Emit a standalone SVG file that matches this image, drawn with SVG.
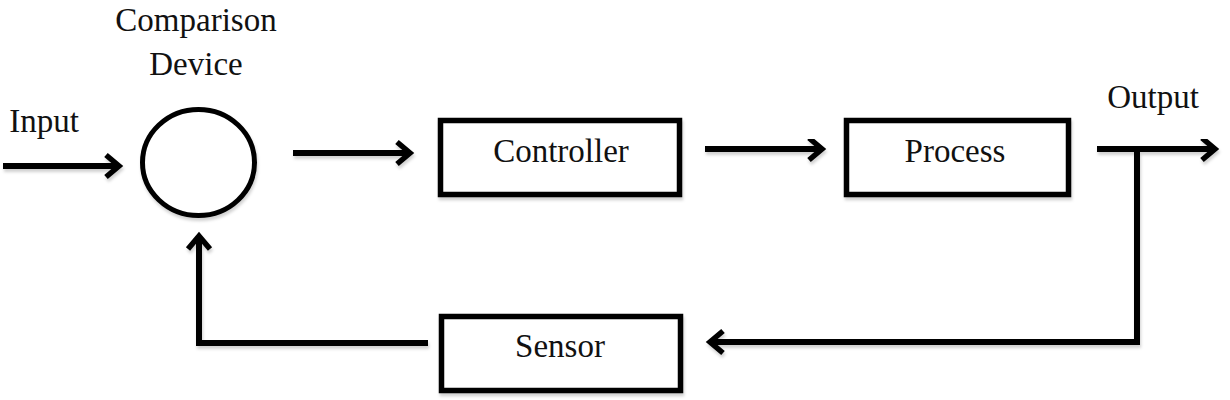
<svg xmlns="http://www.w3.org/2000/svg" width="1230" height="400" viewBox="0 0 1230 400">
<defs>
<style>
.box{fill:#fff;stroke:#000;stroke-width:5.5}
.node-shape{fill:#fff;stroke:#000;stroke-width:5}
.lbl{font-family:"Liberation Serif","Times New Roman",serif;font-size:33px;fill:#111;text-anchor:middle}
.conn{fill:none;stroke:#000;stroke-width:6;stroke-linejoin:miter;marker-end:url(#ah)}
.plain{fill:none;stroke:#000;stroke-width:6;stroke-linejoin:miter}
</style>
<marker id="ah" markerUnits="userSpaceOnUse" viewBox="-22 -16 28 32" markerWidth="28" markerHeight="32" refX="0" refY="0" orient="auto">
<path d="M-13,-11 L0,0 L-13,11" fill="none" stroke="#000" stroke-width="5.5" stroke-linejoin="miter" stroke-miterlimit="10"/>
</marker>
<filter id="sh" x="-5%" y="-5%" width="110%" height="120%">
<feDropShadow dx="1" dy="3" stdDeviation="1.5" flood-color="#000" flood-opacity="0.18"/>
</filter>
</defs>
<rect width="1230" height="400" fill="#fff"/>
<g id="connectors" filter="url(#sh)">
<path class="conn" d="M3,166 H119"/>
<path class="conn" d="M293,153 H410"/>
<path class="conn" d="M705,149 H822"/>
<path class="conn" d="M1097,149 H1215"/>
<path class="conn" d="M1137,149 V342 H710"/>
<path class="conn" d="M428,343 H199 V236"/>
</g>
<g id="comparison" filter="url(#sh)">
<ellipse class="node-shape" cx="198.5" cy="162.5" rx="56" ry="53"/>
</g>
<g id="comparison-label">
<text class="lbl" x="196" y="31">Comparison</text>
<text class="lbl" x="196" y="75">Device</text>
</g>
<g id="input-label"><text class="lbl" x="44" y="132">Input</text></g>
<g id="output-label"><text class="lbl" x="1153" y="108">Output</text></g>
<g id="controller">
<rect class="box" x="440.5" y="120.5" width="239" height="74" filter="url(#sh)"/>
<text class="lbl" x="561" y="162">Controller</text>
</g>
<g id="process">
<rect class="box" x="846.5" y="120.5" width="222" height="74" filter="url(#sh)"/>
<text class="lbl" x="955" y="162">Process</text>
</g>
<g id="sensor">
<rect class="box" x="441.5" y="316.5" width="239" height="74" filter="url(#sh)"/>
<text class="lbl" x="560" y="357">Sensor</text>
</g>
</svg>
